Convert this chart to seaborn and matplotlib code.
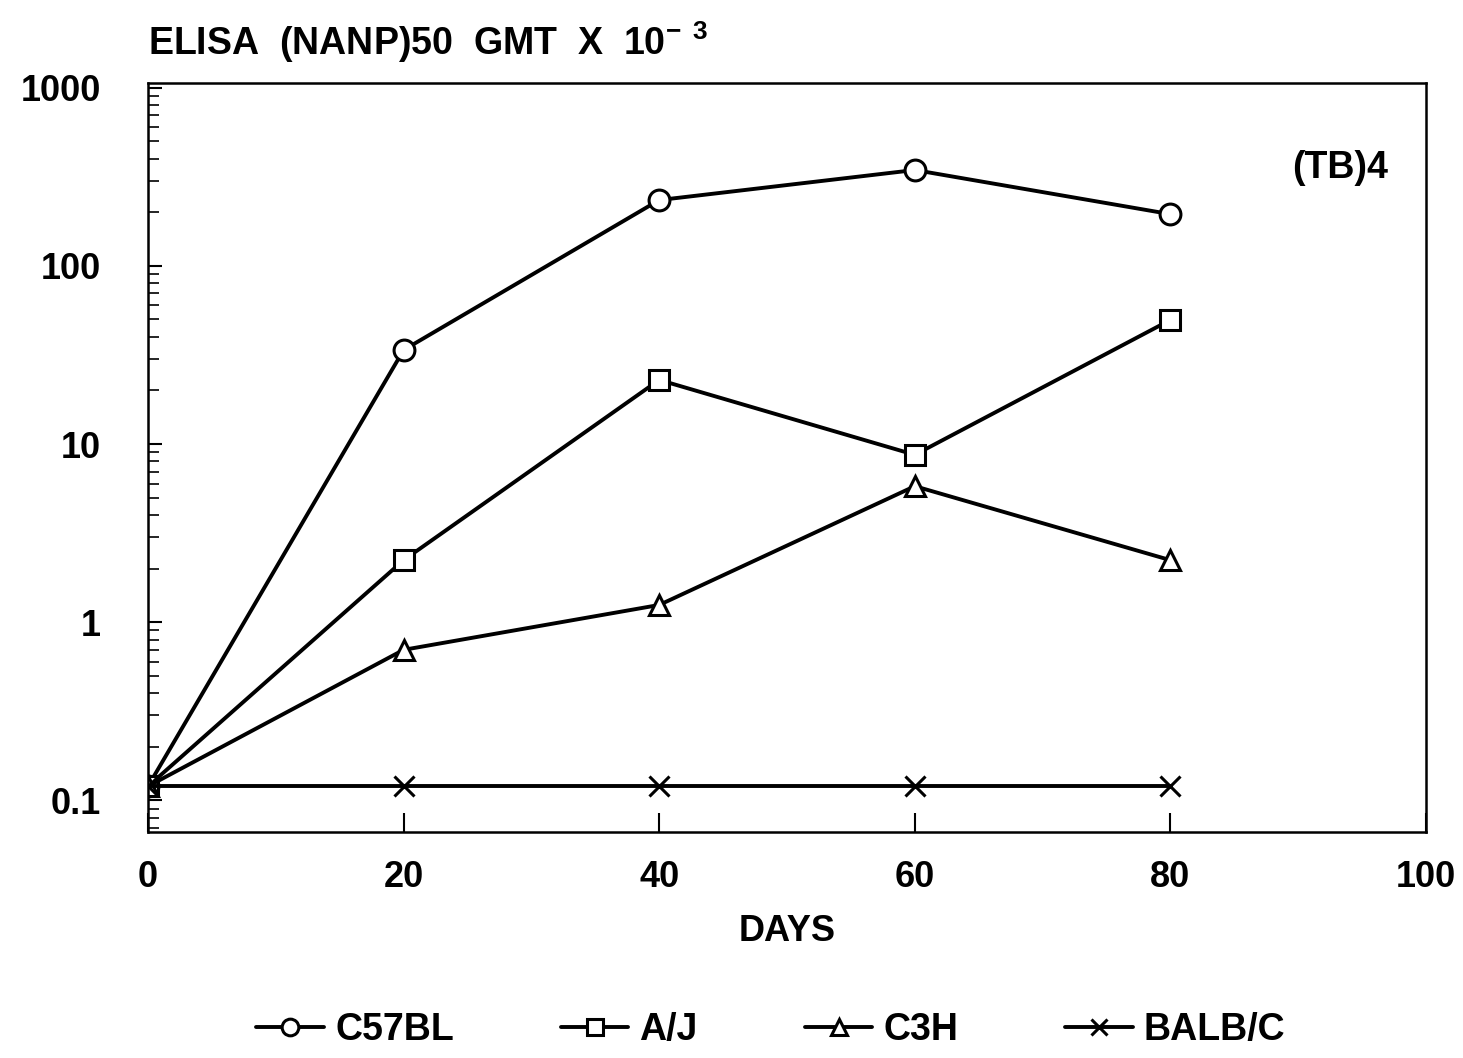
import matplotlib
matplotlib.use("Agg")
import matplotlib.pyplot as plt
import seaborn as sns

# values (log scale, titre x 10^-3)
days = [0, 20, 40, 60, 80]
c57bl = [0.12, 33.7, 234, 345, 195]
aj = [0.12, 2.23, 22.9, 8.7, 49.7]
c3h = [0.12, 0.70, 1.25, 5.8, 2.23]
balbc = [0.12, 0.12, 0.12, 0.12, 0.12]
strains = ["C57BL", "A/J", "C3H", "BALB/C"]
markers = ["o", "s", "^", "x"]
yticks = [0.1, 1, 10, 100, 1000]
ytick_labels = ["0.1", "1", "10", "100", "1000"]
xticks = [0, 20, 40, 60, 80, 100]

sns.set_theme(style="white")
plt.rcParams["font.family"] = ["Liberation Sans", "DejaVu Sans"]
plt.rcParams["font.weight"] = "bold"
plt.rcParams["text.color"] = "black"
plt.rcParams["axes.labelcolor"] = "black"
plt.rcParams["xtick.color"] = "black"
plt.rcParams["ytick.color"] = "black"
plt.rcParams["mathtext.fontset"] = "custom"
plt.rcParams["mathtext.rm"] = "Liberation Sans"
plt.rcParams["mathtext.bf"] = "Liberation Sans:bold"

fig = plt.figure(figsize=(14.63, 10.58), dpi=100)
ax = fig.add_axes([148 / 1463, 1 - 832 / 1058, (1426 - 148) / 1463, (832 - 83) / 1058])

for name, vals, m in zip(strains, [c57bl, aj, c3h, balbc], markers):
    sns.lineplot(x=days, y=vals, ax=ax, label=name, color="black", marker=m,
                 markersize=15, markerfacecolor="white", markeredgecolor="black",
                 markeredgewidth=2.2, linewidth=2.8)

ax.set_yscale("log")
ax.set_xlim(0, 100)
ax.set_ylim(0.0665, 1062)
ax.set_xticks(xticks)
ax.set_xticklabels([str(t) for t in xticks])
ax.set_yticks(yticks)
ax.set_yticklabels(ytick_labels)
ax.tick_params(axis="x", direction="in", length=14, width=1.5, pad=20, labelsize=26, bottom=True)
ax.tick_params(axis="y", which="major", direction="in", length=10, width=1.5, pad=34, labelsize=26, left=True)
ax.tick_params(axis="y", which="minor", direction="in", length=8, width=1.2, left=True)
for lbl in ax.get_xticklabels() + ax.get_yticklabels():
    lbl.set_fontweight("bold")
for sp in ax.spines.values():
    sp.set_color("black")
    sp.set_linewidth(1.8)

ax.set_xlabel("DAYS", fontsize=26, fontweight="bold", labelpad=14)
ax.set_ylabel("")
ax.text(0.933, 0.886, "(TB)4", transform=ax.transAxes, fontsize=27, fontweight="bold",
        ha="center", va="center")

fig.text(148 / 1463, 1 - 42 / 1058, r"ELISA  (NANP)50  GMT  X  10$^{\mathbf{-\;\,3}}$",
         fontsize=27, fontweight="bold", ha="left", va="center")

handles, labels = ax.get_legend_handles_labels()
ax.legend_.remove()
fig.legend(handles, labels, loc="center", bbox_to_anchor=(771 / 1463, 1 - 1030 / 1058),
           ncol=4, frameon=False, fontsize=27, handlelength=1.8, columnspacing=2.85,
           handletextpad=0.3, markerscale=0.8)

plt.savefig("out.png", dpi=100)
plt.close()
